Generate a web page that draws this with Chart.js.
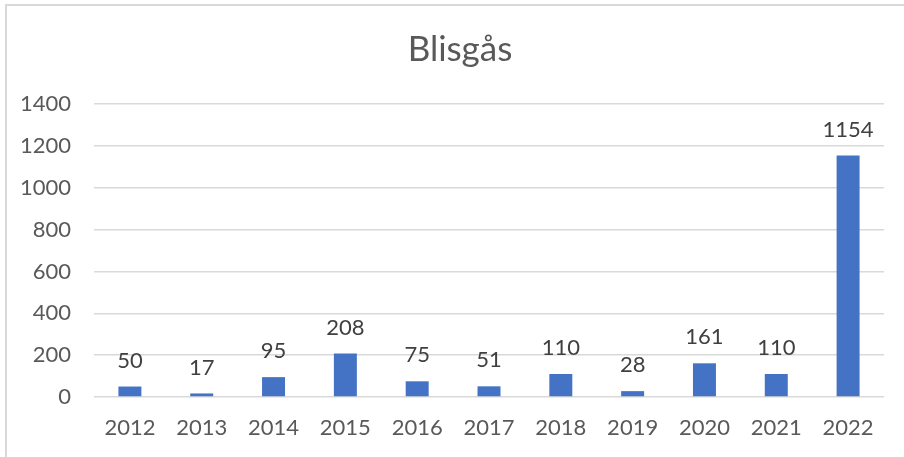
<!DOCTYPE html>
<html>
<head>
<meta charset="utf-8">
<script src="https://cdn.jsdelivr.net/npm/chart.js@4/dist/chart.umd.min.js"></script>
<style>
html,body{margin:0;padding:0;background:#fff;}
#wrap{width:904px;height:457px;position:relative;}
</style>
</head>
<body>
<div id="wrap"><canvas id="c" width="904" height="457"></canvas></div>
<script>
const categories = ["2012","2013","2014","2015","2016","2017","2018","2019","2020","2021","2022"];
const values = [50,17,95,208,75,51,110,28,161,110,1154];
const yTicks = [0,200,400,600,800,1000,1200,1400];
const chartTitle = "Blisgås";

const FONT = "Lato, 'Noto Sans', sans-serif";

const frame = {
  id: 'frame',
  beforeDraw(chart){
    const ctx = chart.ctx;
    ctx.save();
    ctx.fillStyle = '#fff';
    ctx.fillRect(0,0,chart.width,chart.height);
    ctx.strokeStyle = '#d9d9d9';
    ctx.lineWidth = 2;
    ctx.beginPath();
    ctx.moveTo(6, chart.height);
    ctx.lineTo(6, 5);
    ctx.lineTo(chart.width, 5);
    ctx.stroke();
    ctx.restore();
  },
  afterDraw(chart){
    const ctx = chart.ctx;
    ctx.save();
    ctx.fillStyle = '#595959';
    ctx.font = "35px " + FONT;
    ctx.textAlign = 'center';
    ctx.textBaseline = 'middle';
    ctx.fillText(chartTitle, 460, 50);
    ctx.restore();
  }
};

const labels = {
  id: 'barLabels',
  afterDatasetsDraw(chart){
    const ctx = chart.ctx;
    const meta = chart.getDatasetMeta(0);
    ctx.save();
    ctx.fillStyle = '#404040';
    ctx.font = "22px " + FONT;
    ctx.textAlign = 'center';
    ctx.textBaseline = 'middle';
    meta.data.forEach((bar,i)=>{
      ctx.fillText(String(chart.data.datasets[0].data[i]), bar.x, bar.y - 26);
    });
    ctx.restore();
  }
};

new Chart(document.getElementById('c'), {
  type: 'bar',
  data: {
    labels: categories,
    datasets: [{
      data: values,
      backgroundColor: '#4472C4',
      borderWidth: 0,
      barPercentage: 0.32,
      categoryPercentage: 1
    }]
  },
  options: {
    responsive: false,
    animation: false,
    layout: { padding: { left: 6, right: 20, top: 104, bottom: 0 } },
    plugins: {
      legend: { display: false },
      tooltip: { enabled: false },
      title: { display: false }
    },
    scales: {
      x: {
        grid: { display: false, drawTicks: false },
        border: { display: false },
        ticks: { color: '#595959', font: { family: FONT, size: 22 }, padding: 18, maxRotation: 0 },
        afterFit(s){ s.height = 60; }
      },
      y: {
        min: 0, max: 1400,
        afterBuildTicks(s){ s.ticks = yTicks.map(v=>({value:v})); },
        grid: { color: '#d9d9d9', lineWidth: 1.5, drawTicks: false },
        border: { display: false },
        ticks: { color: '#595959', font: { family: FONT, size: 22 }, padding: 23, callback: v => String(v) },
        afterFit(s){ s.width = 88; }
      }
    }
  },
  plugins: [frame, labels]
});
</script>
</body>
</html>
